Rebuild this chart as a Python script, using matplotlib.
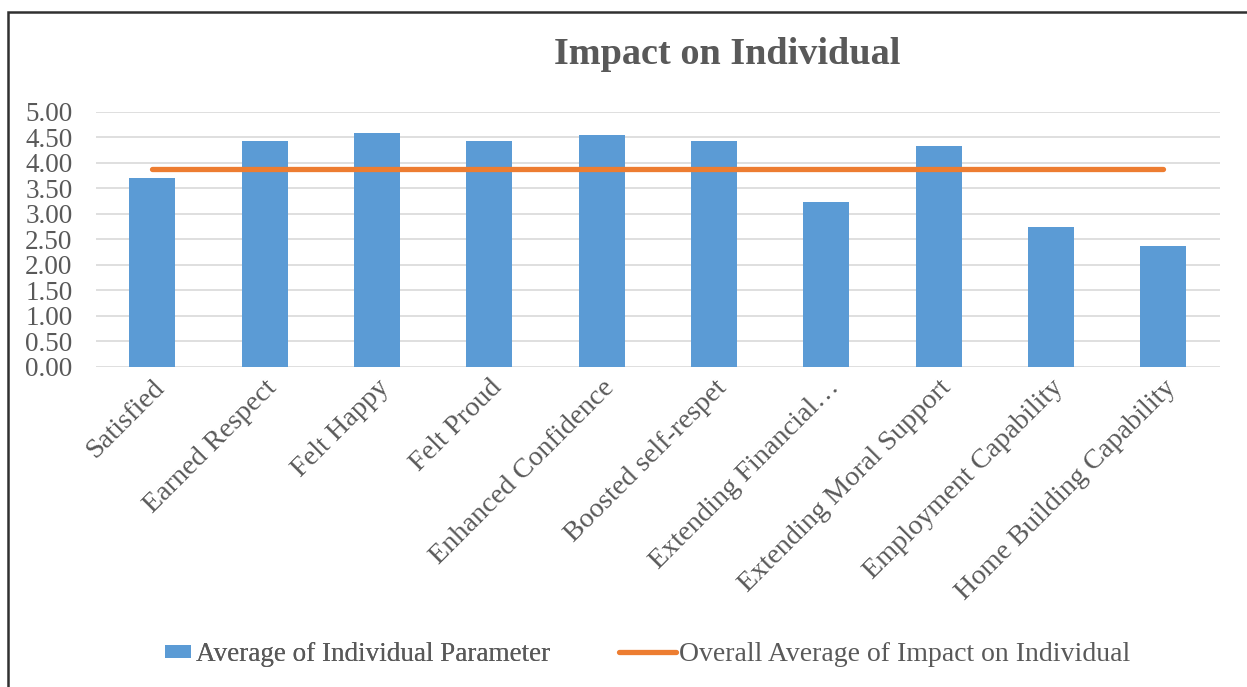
import matplotlib.pyplot as plt
from matplotlib.patches import Rectangle

categories = ["Satisfied", "Earned Respect", "Felt Happy", "Felt Proud",
              "Enhanced Confidence", "Boosted self-respet", "Extending Financial\u2026",
              "Extending Moral Support", "Employment Capability", "Home Building Capability"]
param_avg = [3.71, 4.43, 4.58, 4.43, 4.54, 4.43, 3.24, 4.33, 2.74, 2.38]
overall_avg = 3.88
y_ticks = [0, 0.5, 1, 1.5, 2, 2.5, 3, 3.5, 4, 4.5, 5]

plt.rcParams['font.family'] = ['Liberation Serif', 'DejaVu Serif']
gray = '#595959'
fs = 19.5

fig = plt.figure(figsize=(12.47, 6.87), dpi=100)
ax = fig.add_axes([0.077, 0.466, 0.901, 0.371])

x = range(len(categories))
bars = ax.bar(x, param_avg, width=0.41, color='#5B9BD5', zorder=3,
              label='Average of Individual Parameter')
line, = ax.plot(x, [overall_avg] * len(categories), color='#ED7D31', lw=3.8,
                solid_capstyle='round', zorder=4,
                label='Overall Average of Impact on Individual')

ax.set_xlim(-0.5, len(categories) - 0.5)
ax.set_ylim(0, 5)
ax.set_yticks(y_ticks)
ax.set_yticklabels([f"{v:.2f}" for v in y_ticks], fontsize=fs, color=gray)
ax.set_xticks(list(x))
ax.set_xticklabels(categories, rotation=45, ha='right', rotation_mode='anchor',
                   fontsize=20.3, color=gray)
ax.tick_params(axis='y', length=0, pad=17)
ax.tick_params(axis='x', length=0, pad=6)
ax.grid(axis='y', color='#D9D9D9', lw=1.2, zorder=0)
for s in ax.spines.values():
    s.set_visible(False)

fig.text(0.583, 0.92, "Impact on Individual", ha='center', va='center',
         fontsize=27.5, fontweight='bold', color=gray)

# two legend entries, each with its own handle size
leg1 = fig.legend(handles=[bars], loc='center left', bbox_to_anchor=(165 / 1247, 0.047),
                  frameon=False, fontsize=fs, labelcolor=gray, borderpad=0,
                  borderaxespad=0, handlelength=0.95, handleheight=0.35,
                  handletextpad=0.2)
fig.add_artist(leg1)
fig.legend(handles=[line], loc='center left', bbox_to_anchor=(619 / 1247, 0.047),
           frameon=False, fontsize=20, labelcolor=gray, borderpad=0,
           borderaxespad=0, handlelength=2.05, handletextpad=0.1)

# outer frame around the chart
fig.patches.append(Rectangle((8 / 1247, -0.05), 1.2, 1 - 12 / 687 + 0.05,
                             transform=fig.transFigure, fill=False,
                             edgecolor='#303030', lw=1.8))

fig.savefig('out.png', dpi=100)
